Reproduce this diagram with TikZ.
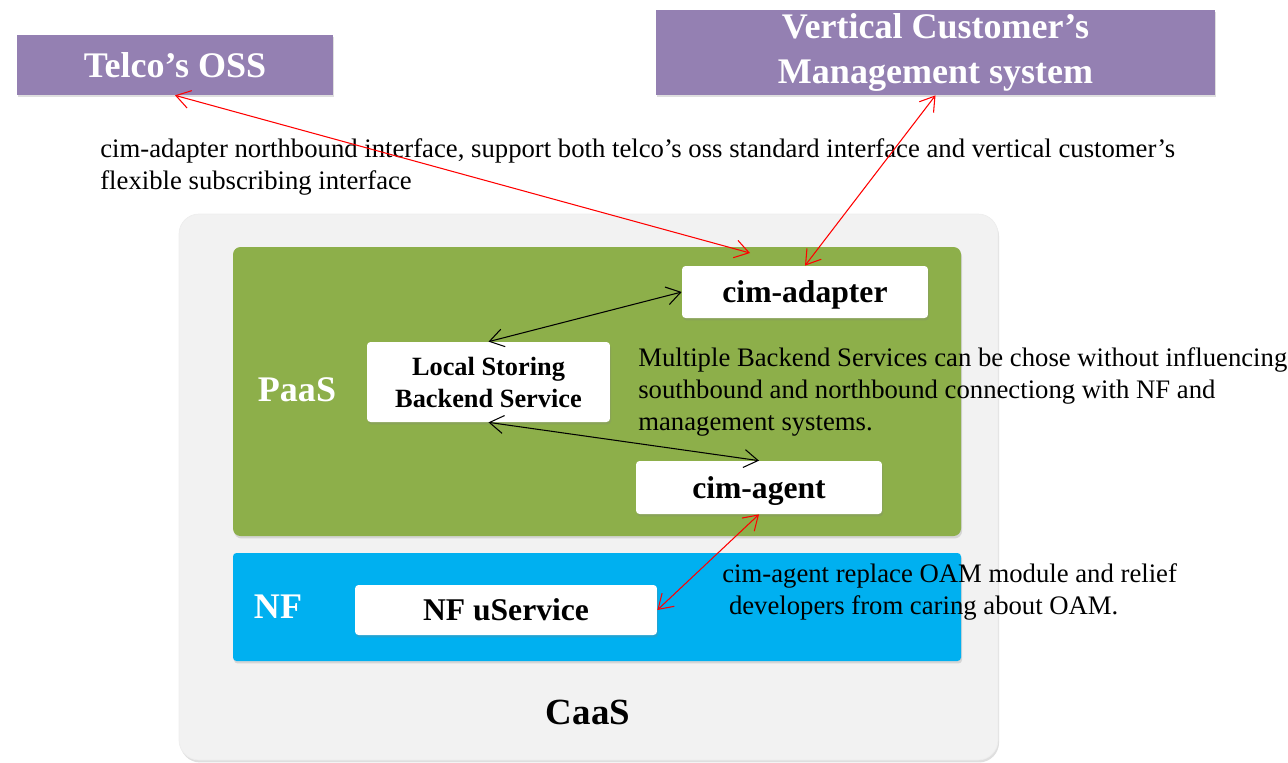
\documentclass[tikz,border=0pt]{standalone}
\usepackage{fontspec}
\setmainfont{Liberation Serif}
\usetikzlibrary{arrows.meta,shadows}
\definecolor{osspurple}{RGB}{148,128,178}
\definecolor{paasgreen}{RGB}{141,175,74}
\definecolor{nfblue}{RGB}{0,176,240}
\definecolor{caasgray}{RGB}{242,242,242}
\tikzset{
 softshadow/.style={drop shadow={opacity=.25,shadow xshift=.6pt,shadow yshift=-1.4pt}},
 sysbox/.style={fill=osspurple, text=white, align=center, inner sep=0, softshadow,
   font=\bfseries\fontsize{20.5}{25.5}\selectfont},
 wbox/.style={fill=white, rounded corners=2pt, align=center, inner sep=0, softshadow,
   font=\bfseries\fontsize{18}{22}\selectfont},
 layer/.style={font=\bfseries\fontsize{20.5}{25}\selectfont},
 note/.style={anchor=west, align=left, inner sep=0, font=\fontsize{15.2}{18.2}\selectfont},
 link/.style={<->, >={Straight Barb[length=2.8mm,width=3.6mm]}, line width=.6pt}
}

\begin{document}
\begin{tikzpicture}[x=0.02cm,y=-0.02cm]
\useasboundingbox (0,0) rectangle (1288,762);
% layers
\filldraw[draw=black!7, fill=caasgray, rounded corners=0.4cm, softshadow] (179,214) rectangle (998,760);
\fill[paasgreen, rounded corners=0.15cm, softshadow] (233,247) rectangle (961,536);
\fill[nfblue, rounded corners=2pt, softshadow] (233,553) rectangle (961,661);
\node[layer, text=white] (paas) at (297,390) {PaaS};
\node[layer, text=white] (nf) at (278,607) {NF};
\node[layer, font=\bfseries\fontsize{21}{25}\selectfont] (caas) at (588,712) {CaaS};
% systems and services
\node[sysbox, minimum width=6.32cm, minimum height=1.2cm] (oss) at (175,65) {Telco’s OSS};
\node[sysbox, minimum width=11.18cm, minimum height=1.7cm] (vcms) at (935.5,52.5) {Vertical Customer’s\\Management system};
\node[wbox, text depth=0pt, minimum width=4.92cm, minimum height=1.04cm] (adapter) at (805,292) {cim-adapter};
\node[wbox, font=\bfseries\fontsize{15}{18.2}\selectfont, minimum width=4.86cm, minimum height=1.6cm] (lsbs) at (488.5,382) {Local Storing\\Backend Service};
\node[wbox, text depth=0pt, minimum width=4.92cm, minimum height=1.06cm] (agent) at (759,487.5) {cim-agent};
\node[wbox, minimum width=6.04cm, minimum height=1cm] (nfu) at (506,610) {NF uService};
% notes
\node[note] (nbnote) at (100,167) {cim-adapter northbound interface, support both telco’s oss standard interface and vertical customer’s\\flexible subscribing interface};
\node[note] (mbnote) at (638,392) {Multiple Backend Services can be chose without influencing\\southbound and northbound connectiong with NF and\\management systems.};
\node[note] (oamnote) at (722,592) {cim-agent replace OAM module and relief\\\ developers from caring about OAM.};
% connectors
\coordinate (adin) at (750,253);
\draw[link, red] (oss.south) -- (adin);
\draw[link, red] (vcms.south) -- (adapter.north);
\draw[link] (adapter.west) -- (lsbs.north);
\draw[link] (lsbs.south) -- (agent.north);
\draw[link, red] (agent.south) -- (nfu.east);
\end{tikzpicture}
\end{document}
